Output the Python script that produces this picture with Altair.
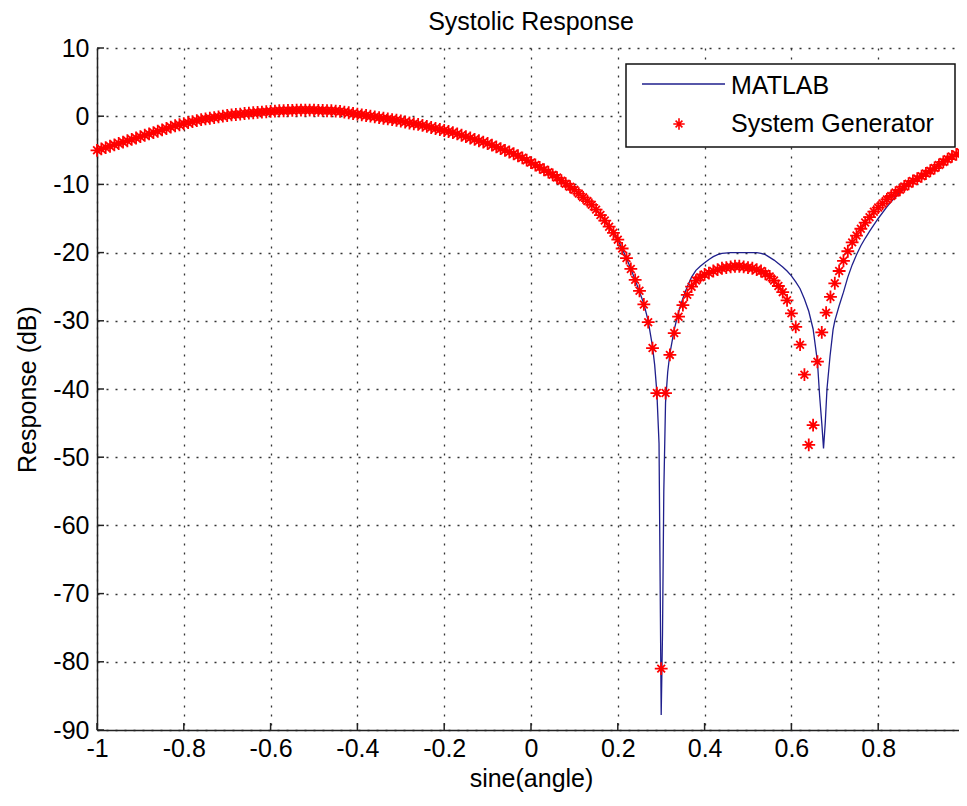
import altair as alt
import pandas as pd

TITLE = "Systolic Response"
X_TITLE = "sine(angle)"
Y_TITLE = "Response (dB)"
LEGEND_LABELS = ["MATLAB", "System Generator"]
X_TICKS = [-1, -0.8, -0.6, -0.4, -0.2, 0, 0.2, 0.4, 0.6, 0.8, 1]
Y_TICKS = [10, 0, -10, -20, -30, -40, -50, -60, -70, -80, -90]

# System Generator samples (markers)
SG_X = [
    -1.00, -0.99, -0.98, -0.97, -0.96, -0.95, -0.94, -0.93, -0.92, -0.91,
    -0.90, -0.89, -0.88, -0.87, -0.86, -0.85, -0.84, -0.83, -0.82, -0.81,
    -0.80, -0.79, -0.78, -0.77, -0.76, -0.75, -0.74, -0.73, -0.72, -0.71,
    -0.70, -0.69, -0.68, -0.67, -0.66, -0.65, -0.64, -0.63, -0.62, -0.61,
    -0.60, -0.59, -0.58, -0.57, -0.56, -0.55, -0.54, -0.53, -0.52, -0.51,
    -0.50, -0.49, -0.48, -0.47, -0.46, -0.45, -0.44, -0.43, -0.42, -0.41,
    -0.40, -0.39, -0.38, -0.37, -0.36, -0.35, -0.34, -0.33, -0.32, -0.31,
    -0.30, -0.29, -0.28, -0.27, -0.26, -0.25, -0.24, -0.23, -0.22, -0.21,
    -0.20, -0.19, -0.18, -0.17, -0.16, -0.15, -0.14, -0.13, -0.12, -0.11,
    -0.10, -0.09, -0.08, -0.07, -0.06, -0.05, -0.04, -0.03, -0.02, -0.01,
    0.00, 0.01, 0.02, 0.03, 0.04, 0.05, 0.06, 0.07, 0.08, 0.09,
    0.10, 0.11, 0.12, 0.13, 0.14, 0.15, 0.16, 0.17, 0.18, 0.19,
    0.20, 0.21, 0.22, 0.23, 0.24, 0.25, 0.26, 0.27, 0.28, 0.29,
    0.30, 0.31, 0.32, 0.33, 0.34, 0.35, 0.36, 0.37, 0.38, 0.39,
    0.40, 0.41, 0.42, 0.43, 0.44, 0.45, 0.46, 0.47, 0.48, 0.49,
    0.50, 0.51, 0.52, 0.53, 0.54, 0.55, 0.56, 0.57, 0.58, 0.59,
    0.60, 0.61, 0.62, 0.63, 0.64, 0.65, 0.66, 0.67, 0.68, 0.69,
    0.70, 0.71, 0.72, 0.73, 0.74, 0.75, 0.76, 0.77, 0.78, 0.79,
    0.80, 0.81, 0.82, 0.83, 0.84, 0.85, 0.86, 0.87, 0.88, 0.89,
    0.90, 0.91, 0.92, 0.93, 0.94, 0.95, 0.96, 0.97, 0.98, 0.99,
    1.00,
]
SG_Y = [
    -5.0, -4.8, -4.6, -4.4, -4.2, -4.0, -3.8, -3.6, -3.4, -3.2,
    -3.0, -2.8, -2.6, -2.4, -2.2, -2.0, -1.8, -1.6, -1.4, -1.25,
    -1.1, -0.95, -0.8, -0.65, -0.5, -0.4, -0.3, -0.2, -0.1, 0.0,
    0.1, 0.2, 0.25, 0.3, 0.4, 0.45, 0.5, 0.55, 0.6, 0.65,
    0.7, 0.75, 0.8, 0.8, 0.85, 0.85, 0.9, 0.9, 0.9, 0.9,
    0.9, 0.85, 0.85, 0.8, 0.8, 0.75, 0.7, 0.6, 0.5, 0.4,
    0.3, 0.2, 0.1, 0.0, -0.1, -0.2, -0.3, -0.4, -0.5, -0.6,
    -0.7, -0.85, -1.0, -1.1, -1.2, -1.35, -1.5, -1.65, -1.8, -1.95,
    -2.1, -2.25, -2.4, -2.6, -2.8, -3.0, -3.2, -3.4, -3.6, -3.8,
    -4.0, -4.25, -4.5, -4.75, -5.0, -5.25, -5.5, -5.8, -6.1, -6.45,
    -6.8, -7.15, -7.5, -7.85, -8.2, -8.6, -9.0, -9.45, -9.9, -10.35,
    -10.8, -11.35, -11.9, -12.45, -13.0, -13.7, -14.5, -15.3, -16.2, -17.1,
    -18.1, -19.4, -20.8, -22.4, -24.0, -25.6, -27.6, -30.2, -34.0, -40.6,
    -81.0, -40.6, -35.0, -31.8, -29.4, -27.7, -26.2, -25.0, -24.1, -23.6,
    -23.2, -23.0, -22.7, -22.5, -22.3, -22.2, -22.1, -22.0, -22.0, -22.1,
    -22.2, -22.3, -22.5, -22.7, -23.1, -23.5, -24.1, -24.9, -25.8, -27.0,
    -28.9, -30.9, -33.5, -37.9, -48.2, -45.3, -36.0, -31.7, -28.8, -26.5,
    -24.5, -22.7, -21.2, -19.8, -18.5, -17.5, -16.5, -15.6, -14.8, -14.0,
    -13.4, -12.8, -12.2, -11.7, -11.2, -10.8, -10.3, -9.9, -9.5, -9.15,
    -8.8, -8.4, -8.0, -7.6, -7.15, -6.7, -6.3, -5.9, -5.6, -5.3,
    -5.0,
]

# MATLAB reference curve (line)
ML_X = [
    -1.00, -0.98, -0.96, -0.94, -0.92, -0.90, -0.88, -0.86, -0.84, -0.82,
    -0.80, -0.78, -0.76, -0.74, -0.72, -0.70, -0.68, -0.66, -0.64, -0.62,
    -0.60, -0.58, -0.56, -0.54, -0.52, -0.50, -0.48, -0.46, -0.44, -0.42,
    -0.40, -0.38, -0.36, -0.34, -0.32, -0.30, -0.28, -0.26, -0.24, -0.22,
    -0.20, -0.18, -0.16, -0.14, -0.12, -0.10, -0.08, -0.06, -0.04, -0.02,
    0.00, 0.02, 0.04, 0.06, 0.08, 0.10, 0.12, 0.14, 0.16, 0.18,
    0.20, 0.22, 0.24, 0.26, 0.27, 0.28, 0.285, 0.29, 0.295, 0.300,
    0.303, 0.306, 0.31, 0.315, 0.32, 0.33, 0.34, 0.35, 0.36, 0.37,
    0.38, 0.39, 0.40, 0.41, 0.42, 0.43, 0.44, 0.46, 0.50, 0.52,
    0.53, 0.54, 0.55, 0.56, 0.57, 0.58, 0.59, 0.60, 0.61, 0.62,
    0.63, 0.64, 0.65, 0.66, 0.665, 0.67, 0.674, 0.678, 0.682, 0.689,
    0.696, 0.70, 0.71, 0.72, 0.73, 0.74, 0.75, 0.76, 0.77, 0.78,
    0.80, 0.82, 0.84, 0.86, 0.88, 0.90, 0.92, 0.94, 0.96, 0.98,
    1.00,
]
ML_Y = [
    -5.0, -4.6, -4.2, -3.8, -3.4, -3.0, -2.6, -2.2, -1.8, -1.4,
    -1.1, -0.8, -0.5, -0.3, -0.1, 0.1, 0.25, 0.4, 0.5, 0.6,
    0.7, 0.8, 0.85, 0.9, 0.9, 0.9, 0.85, 0.8, 0.7, 0.5,
    0.3, 0.1, -0.1, -0.3, -0.5, -0.7, -1.0, -1.2, -1.5, -1.8,
    -2.1, -2.4, -2.8, -3.2, -3.6, -4.0, -4.5, -5.0, -5.5, -6.1,
    -6.8, -7.5, -8.2, -9.0, -9.9, -10.8, -11.9, -13.0, -14.5, -16.2,
    -18.1, -20.8, -24.0, -27.5, -30.0, -33.8, -36.5, -40.5, -48.0, -87.8,
    -76.0, -55.0, -42.0, -37.5, -34.8, -31.3, -28.7, -26.7, -25.0, -23.6,
    -22.6, -22.0, -21.5, -21.0, -20.6, -20.3, -20.1, -20.0, -20.0, -20.0,
    -20.1, -20.3, -20.7, -21.1, -21.6, -22.1, -22.7, -23.4, -24.3, -25.3,
    -26.8, -28.6, -31.2, -36.0, -41.0, -45.0, -48.7, -45.0, -40.0, -35.2,
    -31.3, -30.0, -27.8, -25.8, -23.6, -21.8, -20.3, -19.0, -17.9, -16.9,
    -15.0, -13.3, -11.8, -10.6, -9.6, -8.8, -8.0, -7.15, -6.3, -5.6,
    -5.0,
]

FONT = "Liberation Sans, Arial, Helvetica, sans-serif"
ASTERISK = ("M -1 0 L 1 0 M 0 -1 L 0 1 "
            "M -0.6 -0.6 L 0.6 0.6 M -0.6 0.6 L 0.6 -0.6")
LINE_COLOR = "#1f1f8c"
MARK_COLOR = "#ff0000"

W, H = 868, 682

sg = pd.DataFrame({"x": SG_X, "y": SG_Y})
ml = pd.DataFrame({"x": ML_X, "y": ML_Y})

label_expr = ("datum.value < 0 ? '-' + format(-datum.value, '~g') "
              ": format(datum.value, '~g')")

xscale = alt.Scale(domain=[-1, 1], nice=False, zero=False)
yscale = alt.Scale(domain=[-90, 10], nice=False, zero=False)

xaxis = alt.Axis(
    values=X_TICKS, title=X_TITLE, labelExpr=label_expr, ticks=False,
    labelFlush=False, labelOverlap=False, labelPadding=6,
    labelFontSize=25, titleFontSize=25, labelFont=FONT, titleFont=FONT,
    titleFontWeight="normal", titlePadding=5, labelColor="#000",
    titleColor="#000", domainColor="#222", domainWidth=1.5,
    grid=True, gridDash=[2, 7], gridColor="#333", gridWidth=1.3,
    gridOpacity=1,
)
yaxis = alt.Axis(
    values=Y_TICKS, title=Y_TITLE, labelExpr=label_expr, ticks=False,
    labelFlush=False, labelOverlap=False, labelPadding=8,
    labelFontSize=25, titleFontSize=25, labelFont=FONT, titleFont=FONT,
    titleFontWeight="normal", titlePadding=12, labelColor="#000",
    titleColor="#000", domainColor="#222", domainWidth=1.5,
    grid=True, gridDash=[2, 7], gridColor="#333", gridWidth=1.3,
    gridOpacity=1,
)

line = alt.Chart(ml).mark_line(color=LINE_COLOR, strokeWidth=1.3).encode(
    x=alt.X("x:Q", scale=xscale, axis=xaxis),
    y=alt.Y("y:Q", scale=yscale, axis=yaxis),
    order="x:Q",
)

pts = alt.Chart(sg).mark_point(
    shape=ASTERISK, size=165, stroke=MARK_COLOR, strokeWidth=1.8,
    filled=False, opacity=1,
).encode(
    x=alt.X("x:Q", scale=xscale),
    y=alt.Y("y:Q", scale=yscale),
)

xt = alt.Chart(pd.DataFrame({"v": X_TICKS})).mark_rule(
    color="#222", strokeWidth=1.5
).encode(x=alt.X("v:Q", scale=xscale), y=alt.value(H), y2=alt.value(H - 7))

yt = alt.Chart(pd.DataFrame({"v": Y_TICKS})).mark_rule(
    color="#222", strokeWidth=1.5
).encode(y=alt.Y("v:Q", scale=yscale), x=alt.value(0), x2=alt.value(7))

one = pd.DataFrame({"k": [0]})
box = alt.Chart(one).mark_rect(
    fill="white", stroke="#111", strokeWidth=1.5
).encode(x=alt.value(529), x2=alt.value(858), y=alt.value(16), y2=alt.value(99))

leg_line = alt.Chart(one).mark_rule(color=LINE_COLOR, strokeWidth=1.5).encode(
    x=alt.value(545), x2=alt.value(628), y=alt.value(36)
)
leg_pt = alt.Chart(one).mark_point(
    shape=ASTERISK, size=130, stroke=MARK_COLOR, strokeWidth=1.6, filled=False,
    opacity=1,
).encode(x=alt.value(582), y=alt.value(76))

leg_t1 = alt.Chart(pd.DataFrame({"t": [LEGEND_LABELS[0]]})).mark_text(
    align="left", baseline="middle", fontSize=25, font=FONT, color="#000"
).encode(x=alt.value(634), y=alt.value(38), text="t:N")
leg_t2 = alt.Chart(pd.DataFrame({"t": [LEGEND_LABELS[1]]})).mark_text(
    align="left", baseline="middle", fontSize=25, font=FONT, color="#000"
).encode(x=alt.value(634), y=alt.value(76), text="t:N")

chart = alt.layer(
    line, pts, xt, yt, box, leg_line, leg_pt, leg_t1, leg_t2
).properties(
    width=W, height=H,
    title=alt.TitleParams(TITLE, fontSize=25, font=FONT, fontWeight="normal",
                          color="#000", anchor="middle", offset=1),
    autosize=alt.AutoSizeParams(type="none"),
    padding={"left": 89, "top": 40, "right": -6, "bottom": 62},
    background="white",
).configure_view(stroke=None)

chart.save("out.html", embed_options={"renderer": "svg", "actions": False})
